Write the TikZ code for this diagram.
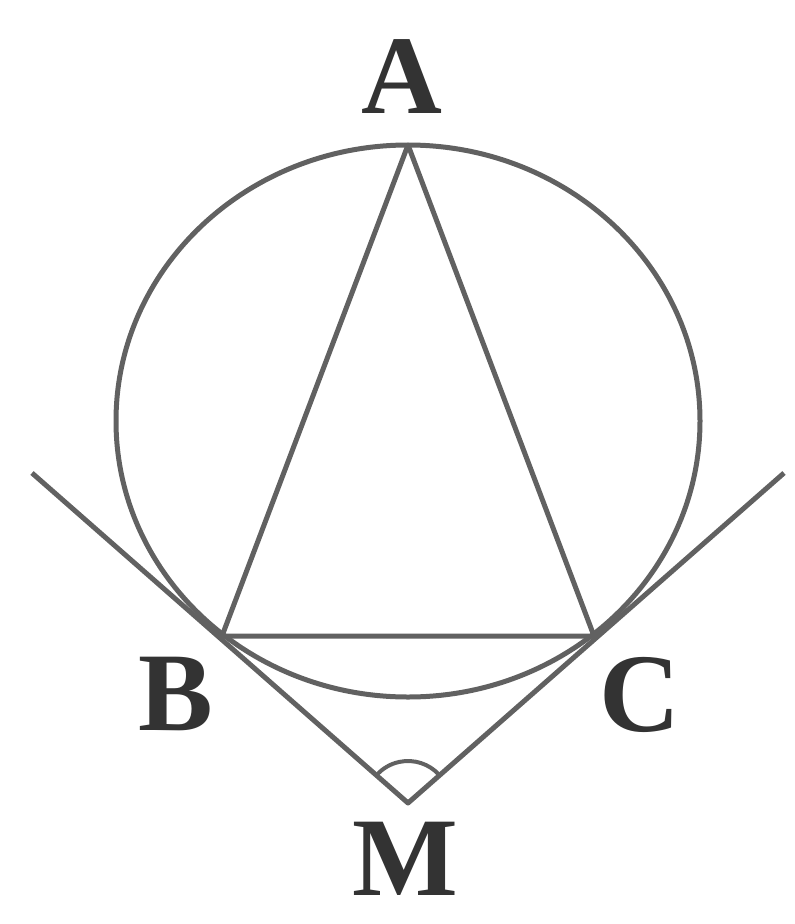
\documentclass[tikz,border=0pt]{standalone}
\usepackage{fontspec}
\setmainfont{Liberation Serif}
\begin{document}
\begin{tikzpicture}[x=1pt,y=-1pt]
\tikzset{
  geo/.style={draw=black!62,line width=5pt,line join=round},
  lab/.style={font=\fontsize{112}{112}\selectfont\bfseries,text=black!80,inner sep=0pt}
}
\useasboundingbox (0,0) rectangle (795,924);
\coordinate (O) at (408,421);
\coordinate (A) at (408,145);
\coordinate (B) at (222,636);
\coordinate (C) at (594,636);
\coordinate (M) at (408,803);
\coordinate (L) at (32,473);
\coordinate (R) at (784,473);
\draw[geo] (O) ellipse [x radius=292, y radius=276];
\draw[geo] (A) -- (B) -- (C) -- cycle;
\draw[geo] (L) -- (M) -- (R);
\draw[geo,line width=4pt] ([shift={(-42:42)}]M) arc[start angle=-42,end angle=-138,radius=42];
\node[lab] (tA) at (402,77) {A};
\node[lab] (tB) at (176,694) {B};
\node[lab] (tC) at (640,695) {C};
\node[lab] (tM) at (405,859) {M};
\end{tikzpicture}
\end{document}
